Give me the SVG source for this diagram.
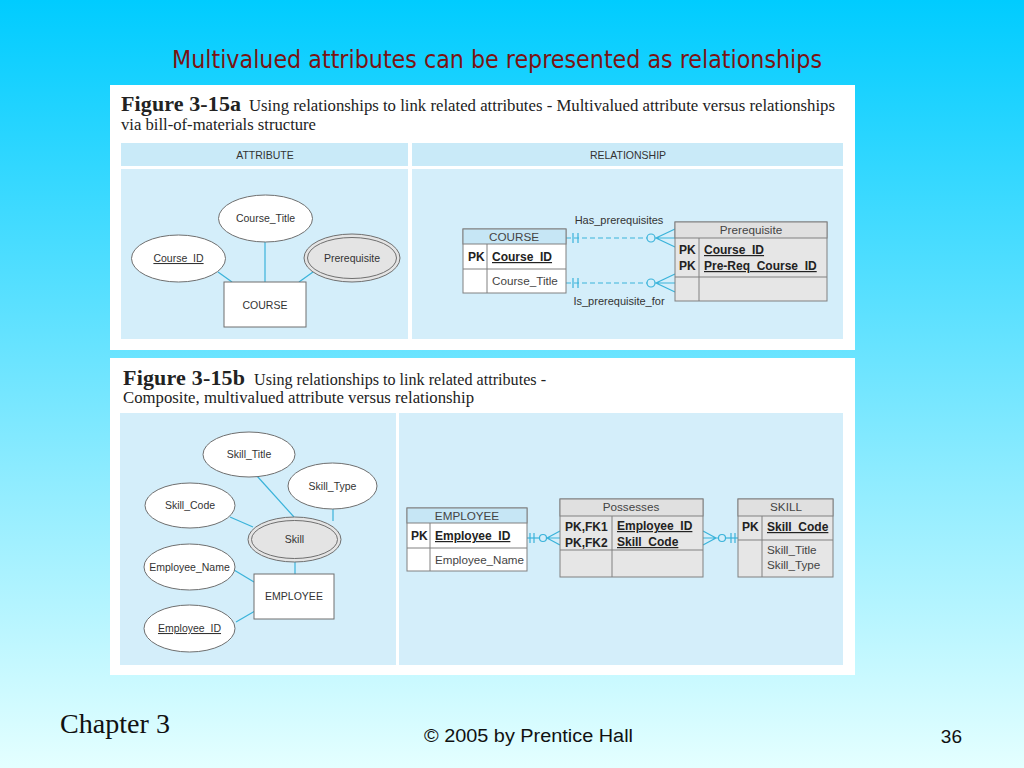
<svg xmlns="http://www.w3.org/2000/svg" width="1024" height="768" viewBox="0 0 1024 768">
<defs>
<linearGradient id="bg" x1="0" y1="0" x2="0" y2="1">
<stop offset="0" stop-color="#00CCFF"/>
<stop offset="1" stop-color="#E4FFFF"/>
</linearGradient>
<style>
.panel{fill:#ffffff}
.hdr{fill:#C9EAF8}
.area{fill:#D4EEFA}
.ell{fill:#ffffff;stroke:#6f6f6f;stroke-width:1}
.ellg{fill:#E4E4E4;stroke:#6f6f6f;stroke-width:1}
.ent{fill:#ffffff;stroke:#6f6f6f;stroke-width:1}
.lbl{font-family:"Liberation Sans",Arial,sans-serif;font-size:10.5px;fill:#333333;text-anchor:middle}
.tb{fill:#ffffff;stroke:#808080;stroke-width:1}
.tbg{fill:#E6E6E6;stroke:#808080;stroke-width:1}
.th{fill:#C6E6F5;stroke:#808080;stroke-width:1}
.thg{fill:#E0E0E0;stroke:#808080;stroke-width:1}
.tl{stroke:#808080;stroke-width:1;fill:none}
.tt{font-family:"Liberation Sans",Arial,sans-serif;font-size:11.7px;fill:#444444}
.tk{font-family:"Liberation Sans",Arial,sans-serif;font-size:12px;fill:#222222;font-weight:bold}
.ul{text-decoration:underline}
.cn{stroke:#3AB3DA;stroke-width:1.2;fill:none}
.cnd{stroke:#3AB3DA;stroke-width:1.2;fill:none;stroke-dasharray:5 3}
.cap{font-family:"Liberation Serif","Times New Roman",serif;fill:#222222}
.rel{font-family:"Liberation Sans",Arial,sans-serif;font-size:11px;fill:#333333;text-anchor:middle}
</style>
</defs>
<rect x="0" y="0" width="1024" height="768" fill="url(#bg)"/>
<text x="497" y="68" font-family="'Liberation Sans Narrow','DejaVu Sans Condensed',sans-serif" font-size="24" fill="#7A1414" text-anchor="middle" textLength="650" lengthAdjust="spacingAndGlyphs">Multivalued attributes can be represented as relationships</text>

<!-- Figure 3-15a -->
<g id="fig-a">
<rect class="panel" x="110" y="85" width="745" height="265"/>
<text class="cap" x="121" y="111" font-size="22" font-weight="bold" textLength="120">Figure 3-15a</text>
<text class="cap" x="249" y="111" font-size="16" textLength="586" lengthAdjust="spacingAndGlyphs">Using relationships to link related attributes - Multivalued attribute versus relationships</text>
<text class="cap" x="121" y="130" font-size="16" textLength="195" lengthAdjust="spacingAndGlyphs">via bill-of-materials structure</text>
<rect class="hdr" x="121" y="143" width="287" height="23"/>
<rect class="hdr" x="412" y="143" width="431" height="23"/>
<text class="lbl" x="265" y="159" font-size="11">ATTRIBUTE</text>
<text class="lbl" x="628" y="159" font-size="11">RELATIONSHIP</text>
<rect class="area" x="121" y="169" width="287" height="170"/>
<rect class="area" x="412" y="169" width="431" height="170"/>
</g>

<g id="a-connectors">
<line class="cn" x1="265" y1="242" x2="265" y2="282"/>
<line class="cn" x1="218" y1="272" x2="232" y2="282"/>
<line class="cn" x1="313" y1="272" x2="299" y2="282"/>
<!-- Has_prerequisites -->
<line class="cnd" x1="566" y1="238" x2="647" y2="238"/>
<line class="cn" x1="573" y1="233" x2="573" y2="243"/>
<line class="cn" x1="578" y1="233" x2="578" y2="243"/>
<circle class="cn" cx="651" cy="238" r="4"/>
<path class="cn" d="M675 229 L656 238 L675 247 M655 238 L675 238"/>
<!-- Is_prerequisite_for -->
<line class="cnd" x1="566" y1="283" x2="647" y2="283"/>
<line class="cn" x1="573" y1="278" x2="573" y2="288"/>
<line class="cn" x1="578" y1="278" x2="578" y2="288"/>
<circle class="cn" cx="651" cy="283" r="4"/>
<path class="cn" d="M675 274 L656 283 L675 292 M655 283 L675 283"/>
</g>
<text class="rel" x="619" y="224">Has_prerequisites</text>
<text class="rel" x="619" y="305">Is_prerequisite_for</text>

<g id="a-course-title"><ellipse class="ell" cx="265.5" cy="218.5" rx="47" ry="23.5"/><text class="lbl" x="265.5" y="222">Course_Title</text></g>
<g id="a-course-id"><ellipse class="ell" cx="178.5" cy="258.5" rx="47" ry="23.5"/><text class="lbl ul" x="178.5" y="262">Course_ID</text></g>
<g id="a-prerequisite"><ellipse class="ellg" cx="352" cy="258" rx="48" ry="24"/><ellipse fill="none" stroke="#6f6f6f" cx="352" cy="258" rx="44.5" ry="20.5"/><text class="lbl" x="352" y="262">Prerequisite</text></g>
<g id="a-course"><rect class="ent" x="224" y="282" width="82" height="45"/><text class="lbl" x="265" y="309">COURSE</text></g>

<g id="a-course-table">
<rect class="tb" x="463" y="229" width="103" height="64"/>
<rect class="th" x="463" y="229" width="103" height="15"/>
<line class="tl" x1="463" y1="269" x2="566" y2="269"/>
<line class="tl" x1="487" y1="244" x2="487" y2="293"/>
<text class="tt" x="514" y="241" text-anchor="middle">COURSE</text>
<text class="tk" x="468" y="261">PK</text>
<text class="tk ul" x="492" y="261">Course_ID</text>
<text class="tt" x="492" y="285">Course_Title</text>
</g>
<g id="a-prereq-table">
<rect class="tbg" x="675" y="222" width="152" height="79"/>
<rect class="thg" x="675" y="222" width="152" height="16"/>
<line class="tl" x1="675" y1="277" x2="827" y2="277"/>
<line class="tl" x1="699" y1="238" x2="699" y2="301"/>
<text class="tt" x="751" y="234" text-anchor="middle">Prerequisite</text>
<text class="tk" x="679" y="254">PK</text>
<text class="tk" x="679" y="270">PK</text>
<text class="tk ul" x="704" y="254">Course_ID</text>
<text class="tk ul" x="704" y="270">Pre-Req_Course_ID</text>
</g>

<!-- Figure 3-15b -->
<g id="fig-b">
<rect class="panel" x="110" y="358" width="745" height="317"/>
<text class="cap" x="123" y="385" font-size="22" font-weight="bold" textLength="122">Figure 3-15b</text>
<text class="cap" x="254" y="385" font-size="16" textLength="292" lengthAdjust="spacingAndGlyphs">Using relationships to link related attributes -</text>
<text class="cap" x="123" y="403" font-size="16" textLength="351" lengthAdjust="spacingAndGlyphs">Composite, multivalued attribute versus relationship</text>
<rect class="area" x="120" y="413" width="276" height="252"/>
<rect class="area" x="399" y="413" width="444" height="252"/>
</g>

<g id="b-connectors">
<line class="cn" x1="257" y1="476" x2="294" y2="517"/>
<line class="cn" x1="333" y1="509" x2="333" y2="521"/>
<line class="cn" x1="230" y1="517" x2="253" y2="527"/>
<line class="cn" x1="295" y1="562" x2="295" y2="574"/>
<line class="cn" x1="234" y1="570" x2="254" y2="582"/>
<line class="cn" x1="236" y1="622" x2="255" y2="611"/>
<!-- EMPLOYEE - Possesses -->
<line class="cn" x1="527" y1="538" x2="539.5" y2="538"/>
<line class="cn" x1="530" y1="533" x2="530" y2="543"/>
<line class="cn" x1="534" y1="533" x2="534" y2="543"/>
<circle class="cn" cx="543" cy="538" r="3.5"/>
<path class="cn" d="M560 531 L547 538 L560 545 M546.5 538 L560 538"/>
<!-- Possesses - SKILL -->
<path class="cn" d="M703 531 L716 538 L703 545 M703 538 L718.5 538"/>
<circle class="cn" cx="722" cy="538" r="3.5"/>
<line class="cn" x1="725.5" y1="538" x2="738" y2="538"/>
<line class="cn" x1="731" y1="533" x2="731" y2="543"/>
<line class="cn" x1="735" y1="533" x2="735" y2="543"/>
</g>

<g id="b-skill-title"><ellipse class="ell" cx="249" cy="454.5" rx="46" ry="22.5"/><text class="lbl" x="249" y="458">Skill_Title</text></g>
<g id="b-skill-type"><ellipse class="ell" cx="332.5" cy="486" rx="44.5" ry="23"/><text class="lbl" x="332.5" y="490">Skill_Type</text></g>
<g id="b-skill-code"><ellipse class="ell" cx="190" cy="505.5" rx="45" ry="22.5"/><text class="lbl" x="190" y="509">Skill_Code</text></g>
<g id="b-skill"><ellipse class="ellg" cx="294.5" cy="539.5" rx="46.5" ry="22.5"/><ellipse fill="none" stroke="#6f6f6f" cx="294.5" cy="539.5" rx="43" ry="19"/><text class="lbl" x="294.5" y="543">Skill</text></g>
<g id="b-employee-name"><ellipse class="ell" cx="189.5" cy="567" rx="45.5" ry="23"/><text class="lbl" x="189.5" y="571">Employee_Name</text></g>
<g id="b-employee-id"><ellipse class="ell" cx="189.5" cy="628.5" rx="45.5" ry="23.5"/><text class="lbl ul" x="189.5" y="632">Employee_ID</text></g>
<g id="b-employee"><rect class="ent" x="254" y="574" width="80" height="45"/><text class="lbl" x="294" y="600">EMPLOYEE</text></g>

<g id="b-employee-table">
<rect class="tb" x="407" y="508" width="120" height="63"/>
<rect class="th" x="407" y="508" width="120" height="15"/>
<line class="tl" x1="407" y1="548" x2="527" y2="548"/>
<line class="tl" x1="430" y1="523" x2="430" y2="571"/>
<text class="tt" x="467" y="520" text-anchor="middle">EMPLOYEE</text>
<text class="tk" x="411" y="540">PK</text>
<text class="tk ul" x="435" y="540">Employee_ID</text>
<text class="tt" x="435" y="564" textLength="89" lengthAdjust="spacingAndGlyphs">Employee_Name</text>
</g>
<g id="b-possesses-table">
<rect class="tbg" x="560" y="499" width="143" height="78"/>
<rect class="thg" x="560" y="499" width="143" height="17"/>
<line class="tl" x1="560" y1="550" x2="703" y2="550"/>
<line class="tl" x1="612" y1="516" x2="612" y2="577"/>
<text class="tt" x="631" y="511" text-anchor="middle">Possesses</text>
<text class="tk" x="565" y="531">PK,FK1</text>
<text class="tk" x="565" y="547">PK,FK2</text>
<text class="tk ul" x="617" y="530">Employee_ID</text>
<text class="tk ul" x="617" y="546">Skill_Code</text>
</g>
<g id="b-skill-table">
<rect class="tbg" x="738" y="499" width="95" height="78"/>
<rect class="thg" x="738" y="499" width="95" height="17"/>
<line class="tl" x1="738" y1="540" x2="833" y2="540"/>
<line class="tl" x1="762" y1="516" x2="762" y2="577"/>
<text class="tt" x="786" y="511" text-anchor="middle">SKILL</text>
<text class="tk" x="742" y="531">PK</text>
<text class="tk ul" x="767" y="531">Skill_Code</text>
<text class="tt" x="767" y="554">Skill_Title</text>
<text class="tt" x="767" y="569">Skill_Type</text>
</g>

<text x="60" y="733" font-family="'Liberation Serif','Times New Roman',serif" font-size="27" fill="#111111" textLength="110" lengthAdjust="spacingAndGlyphs">Chapter 3</text>
<text x="424" y="742" font-family="'Liberation Sans',Arial,sans-serif" font-size="18" fill="#111111" textLength="209" lengthAdjust="spacingAndGlyphs">© 2005 by Prentice Hall</text>
<text x="962" y="743" font-family="'Liberation Sans',Arial,sans-serif" font-size="19" fill="#111111" text-anchor="end">36</text>
</svg>
